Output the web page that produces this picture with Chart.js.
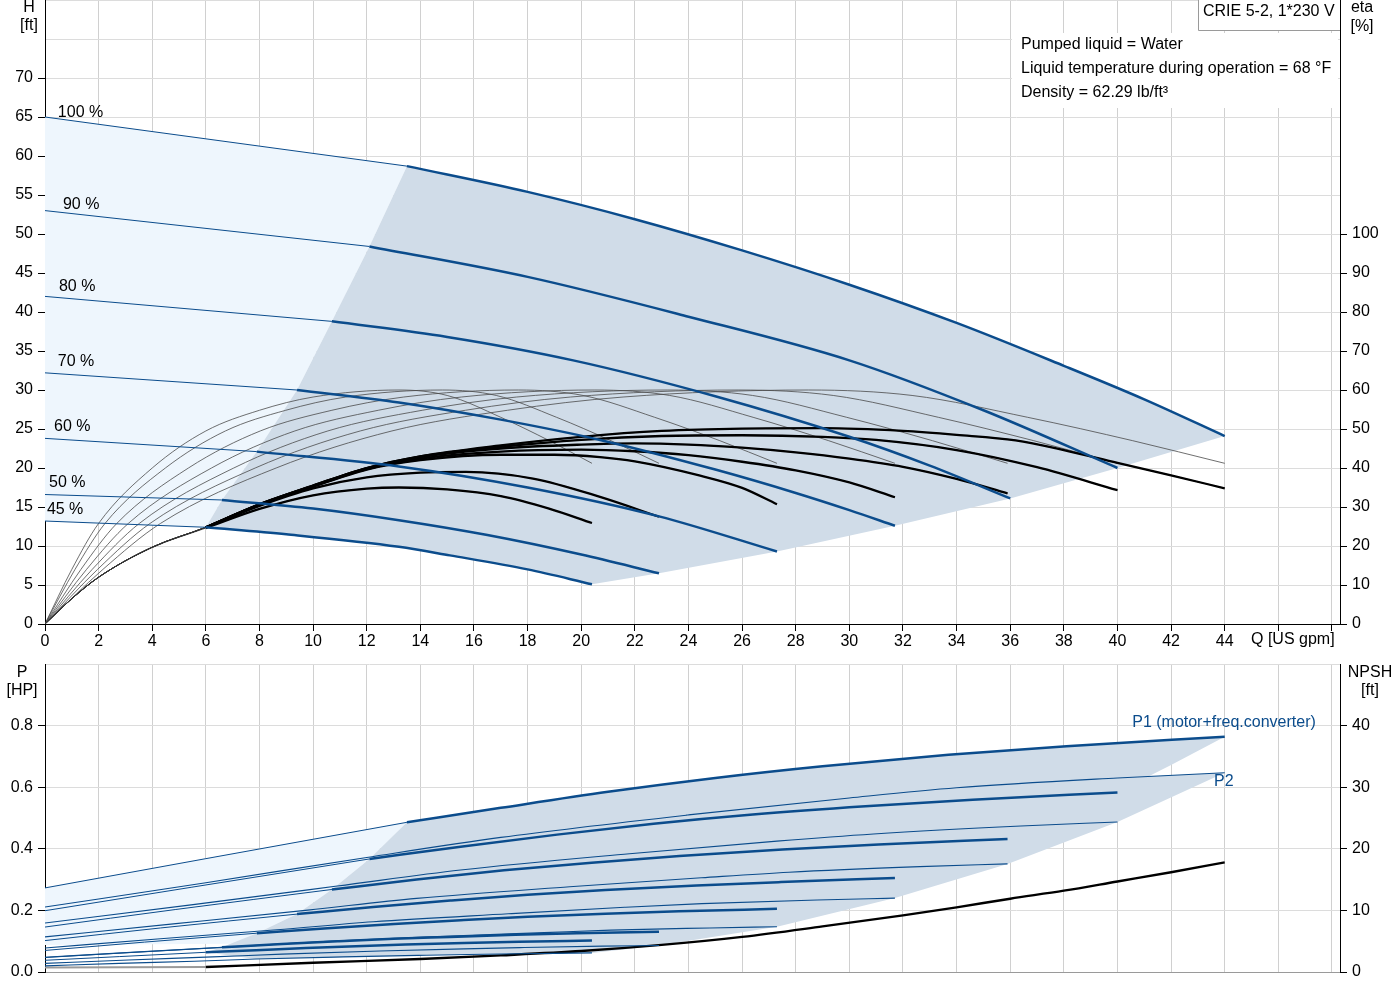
<!DOCTYPE html>
<html>
<head>
<meta charset="utf-8">
<title>CRIE 5-2 pump curves</title>
<script src="https://cdn.jsdelivr.net/npm/chart.js@4.4.1/dist/chart.umd.min.js"></script>
<style>
  html, body { margin: 0; padding: 0; background: #fff; }
  #wrap { position: relative; width: 1400px; height: 1000px; }
  canvas { position: absolute; left: 0; }
  #headChart { top: 0; }
  #powerChart { top: 655px; }
</style>
</head>
<body>
<div id="wrap">
  <canvas id="headChart" width="1400" height="655"></canvas>
  <canvas id="powerChart" width="1400" height="345"></canvas>
</div>
<script>
// ---- data ----
const speedNames = ["100 %", "90 %", "80 %", "70 %", "60 %", "50 %", "45 %"];
const thickFromQ = [13.5, 12.1, 10.7, 9.4, 7.9, 6.6, 6.0];
const etaThickFromQ = 6;

// head H [ft] per speed
const h100Q = [0, 13.5, 18, 22, 26, 30, 34, 38, 41, 44];
const h100H = [65, 58.7, 55.4, 51.9, 47.9, 43.5, 38.6, 33.1, 28.8, 24.1];
const h90Q = [0, 12.1, 18, 24, 30, 35, 40];
const h90H = [53, 48.4, 44.5, 39.4, 33.8, 27.4, 20];
const h80Q = [0, 10.7, 15, 19.7, 25, 30, 33, 36];
const h80H = [42, 38.8, 36.8, 33.8, 29.2, 24.0, 20.3, 16.1];
const h70Q = [0, 9.4, 13.2, 17, 20.7, 25, 28, 30, 31.7];
const h70H = [32.2, 30.0, 28.4, 26.2, 23.6, 19.8, 16.8, 14.6, 12.6];
const h60Q = [0, 7.9, 13.2, 18, 22.9, 27.3];
const h60H = [23.8, 22.1, 20.2, 17.5, 13.8, 9.3];
const h50Q = [0, 6.6, 10, 13.2, 16.5, 20, 22.9];
const h50H = [16.6, 15.9, 14.8, 13.3, 11.4, 8.9, 6.5];
const h45Q = [0, 6, 9, 13.2, 15.1, 18, 20.4];
const h45H = [13.2, 12.4, 11.5, 9.9, 8.8, 7.0, 5.1];

// pump efficiency eta [%] (thin curves), same eta values at each speed
const thinEta = [0, 14, 25.8, 40, 49.5, 54.8, 58.2, 60, 58.6, 53, 47, 41.2];
const thinQ100 = [0, 2.16, 4.31, 8.62, 12.94, 17.25, 21.56, 28.47, 32.34, 36.65, 40.57, 44];
const thinQ90 = [0, 1.96, 3.92, 7.84, 11.76, 15.68, 19.6, 25.88, 29.4, 33.32, 36.88, 40];
const thinQ80 = [0, 1.76, 3.52, 7.04, 10.55, 14.07, 17.59, 23.23, 26.39, 29.9, 33.1, 35.9];
const thinQ70 = [0, 1.55, 3.11, 6.21, 9.32, 12.43, 15.53, 20.51, 23.3, 26.41, 29.23, 31.7];
const thinQ60 = [0, 1.34, 2.68, 5.35, 8.03, 10.7, 13.38, 17.66, 20.07, 22.74, 25.17, 27.3];
const thinQ50 = [0, 1.12, 2.24, 4.49, 6.73, 8.98, 11.22, 14.82, 16.83, 19.08, 21.11, 22.9];
const thinQ45 = [0, 1.0, 2.0, 4.0, 6.0, 8.0, 10.0, 13.2, 15.0, 17.0, 18.81, 20.4];

// total efficiency eta [%] (heavy black curves)
const etaQ100 = [0, 1, 2, 4, 6, 8, 10, 12, 14, 17, 20, 23, 26, 29, 32, 34, 36.2, 38, 40, 42, 44];
const eta100 = [0, 6.5, 12, 19.7, 24.8, 30.7, 35.5, 40, 43, 45.8, 48, 49.5, 50.1, 50.2, 49.5, 48.5, 47.1, 44.6, 41.3, 38.1, 34.8];
const etaQ90 = [0, 1, 2, 4, 6, 8, 10, 12, 14, 17, 20, 23, 26, 29, 31, 34, 37, 40];
const eta90 = [0, 6.5, 12, 19.7, 24.8, 30.7, 35.5, 40, 43, 45.4, 47.2, 48.2, 48.4, 48, 47.2, 44.6, 40.2, 34.3];
const etaQ80 = [0, 1, 2, 4, 6, 8, 10, 12, 14, 17, 20, 22, 24, 26, 28, 30, 32, 34, 35.9];
const eta80 = [0, 6.5, 12, 19.7, 24.8, 30.7, 35.4, 39.9, 42.8, 45, 46, 46.3, 46, 45.2, 44, 42.4, 40.3, 37.2, 33.5];
const etaQ70 = [0, 1, 2, 4, 6, 8, 10, 12, 14, 17, 20, 22, 24, 26, 28, 30, 31.7];
const eta70 = [0, 6.5, 12, 19.7, 24.8, 30.6, 35.3, 39.7, 42.4, 44.2, 44.7, 44.3, 43.3, 41.6, 39.4, 36.3, 32.5];
const etaQ60 = [0, 1, 2, 4, 6, 8, 10, 12, 14, 17, 19, 20.7, 22, 24.4, 26, 27.3];
const eta60 = [0, 6.5, 12, 19.7, 24.8, 30.5, 35.2, 39.6, 42, 43.4, 43.4, 42.8, 41.7, 38.1, 34.9, 30.7];
const etaQ50 = [0, 1, 2, 4, 6, 8, 10, 12, 14, 15.7, 18.2, 20.7, 22.9];
const eta50 = [0, 6.5, 12, 19.7, 24.8, 30.3, 34.8, 37.6, 38.8, 39, 37.3, 32.6, 27.5];
const etaQ45 = [0, 1, 2, 4, 6, 8, 10, 12, 13.2, 15, 17, 18.8, 20.4];
const eta45 = [0, 6.5, 12, 19.6, 24.6, 29.5, 33, 34.7, 35, 34.5, 32.8, 29.6, 25.9];

// P1 (motor+freq.converter) [HP]
const p1Q100 = [0, 6, 13.5, 17, 21, 25, 29, 33.7, 38.1, 44];
const p1P100 = [0.273, 0.368, 0.486, 0.533, 0.585, 0.630, 0.668, 0.705, 0.733, 0.764];
const p1Q90 = [0, 5.45, 12.1, 15.5, 19.1, 22.7, 26.4, 30.6, 34.6, 40];
const p1P90 = [0.199, 0.275, 0.367, 0.407, 0.446, 0.481, 0.511, 0.538, 0.559, 0.583];
const p1Q80 = [0, 4.88, 10.7, 13.86, 17.12, 20.39, 23.66, 27.5, 31.09, 35.9];
const p1P80 = [0.146, 0.203, 0.268, 0.300, 0.330, 0.355, 0.377, 0.398, 0.414, 0.432];
const p1Q70 = [0, 4.31, 9.4, 12.24, 15.12, 18.0, 20.9, 24.3, 27.45, 31.7];
const p1P70 = [0.102, 0.143, 0.188, 0.211, 0.232, 0.251, 0.266, 0.281, 0.292, 0.305];
const p1Q60 = [0, 3.71, 7.9, 10.54, 13.02, 15.5, 18.0, 20.9, 23.64, 27.3];
const p1P60 = [0.070, 0.097, 0.126, 0.142, 0.156, 0.168, 0.179, 0.189, 0.197, 0.205];
const p1Q50 = [0, 3.11, 6.6, 8.84, 10.92, 13.0, 15.1, 17.54, 19.83, 22.9];
const p1P50 = [0.047, 0.063, 0.080, 0.091, 0.100, 0.108, 0.114, 0.121, 0.126, 0.131];
const p1Q45 = [0, 2.77, 6.0, 7.87, 9.73, 11.59, 13.44, 15.63, 17.67, 20.4];
const p1P45 = [0.038, 0.050, 0.064, 0.071, 0.078, 0.084, 0.089, 0.094, 0.098, 0.102];

// P2 [HP]
const p2Q100 = [0, 6, 12, 17, 24, 30, 34, 40, 44];
const p2P100 = [0.211, 0.29, 0.372, 0.437, 0.51, 0.565, 0.598, 0.63, 0.647];
const p2Q90 = [0, 5.45, 10.9, 15.5, 21.8, 27.3, 30.9, 36.4, 40];
const p2P90 = [0.159, 0.218, 0.279, 0.331, 0.384, 0.425, 0.448, 0.474, 0.487];
const p2Q80 = [0, 4.88, 9.8, 13.86, 19.57, 24.48, 27.75, 32.63, 35.9];
const p2P80 = [0.114, 0.157, 0.201, 0.239, 0.277, 0.306, 0.324, 0.342, 0.351];
const p2Q70 = [0, 4.31, 8.65, 12.24, 17.28, 21.62, 24.5, 28.8, 31.7];
const p2P70 = [0.078, 0.108, 0.137, 0.163, 0.189, 0.21, 0.222, 0.234, 0.24];
const p2Q60 = [0, 3.71, 7.45, 10.54, 14.88, 18.62, 21.1, 24.8, 27.3];
const p2P60 = [0.048, 0.066, 0.084, 0.1, 0.116, 0.128, 0.136, 0.143, 0.147];
const p2Q50 = [0, 3.11, 6.25, 8.84, 12.48, 15.62, 17.7, 20.8, 22.9];
const p2P50 = [0.028, 0.039, 0.049, 0.058, 0.068, 0.075, 0.079, 0.084, 0.086];
const p2Q45 = [0, 2.77, 5.57, 7.87, 11.12, 13.91, 15.77, 18.54, 20.4];
const p2P45 = [0.020, 0.028, 0.035, 0.042, 0.049, 0.054, 0.057, 0.060, 0.062];

// edge of the P1 area where it meets the P2 area, and lower edge of the pale area
const p1EdgeQ = [42, 41.15];
const p1EdgeP = [0.672, 0.635];
const paleLowQ = [7, 0];
const paleLowP = [0.092, 0.088];

// NPSH [ft]
const npshThinQ = [0, 6];
const npshThin = [0.75, 0.8];
const npshQ = [6, 10, 14, 17, 20, 23, 26, 29, 32, 34, 36, 38, 40, 42, 44];
const npsh = [0.8, 1.5, 2.1, 2.7, 3.4, 4.4, 5.7, 7.4, 9.2, 10.5, 11.9, 13.2, 14.7, 16.2, 17.8];

// ---- styling ----
const BLUE = "#0b4c8c";
const DARK_AREA = "#d0dce8";
const PALE_AREA = "#eef6fd";
const GRID_V = "#d0d0d0";
const GRID_H = "#dcdcdc";
const FONT = '16px "Liberation Sans", Arial, sans-serif';

Chart.defaults.font.family = '"Liberation Sans", Arial, sans-serif';
Chart.defaults.font.size = 16;
Chart.defaults.color = "#000";

function pts(qs, vs) { return qs.map((q, i) => ({ x: q, y: vs[i] })); }
function fromQ(qs, vs, q0) { return pts(qs, vs).filter(p => p.x >= q0 - 0.01); }
function uptoQ(qs, vs, q0) { return pts(qs, vs).filter(p => p.x <= q0 + 0.01); }
function lastPt(qs, vs) { return { x: qs[qs.length - 1], y: vs[vs.length - 1] }; }
function nearPt(qs, vs, q0) {
  let k = 0;
  qs.forEach((q, i) => { if (Math.abs(q - q0) < Math.abs(qs[k] - q0)) k = i; });
  return { x: qs[k], y: vs[k] };
}

const line = (data, color, width, axis, order) => ({
  data: data, borderColor: color, borderWidth: width, pointRadius: 0, fill: false,
  cubicInterpolationMode: "monotone", yAxisID: axis, order: order
});
const area = (data, color, axis, order) => ({
  data: data, borderColor: "rgba(0,0,0,0)", borderWidth: 0, backgroundColor: color,
  pointRadius: 0, fill: "shape", tension: 0, yAxisID: axis, order: order
});

// ---- head chart datasets ----
const headCurves = [[h100Q, h100H], [h90Q, h90H], [h80Q, h80H], [h70Q, h70H], [h60Q, h60H], [h50Q, h50H], [h45Q, h45H]];
const thinCurves = [thinQ100, thinQ90, thinQ80, thinQ70, thinQ60, thinQ50, thinQ45];
const etaCurves = [[etaQ100, eta100], [etaQ90, eta90], [etaQ80, eta80], [etaQ70, eta70], [etaQ60, eta60], [etaQ50, eta50], [etaQ45, eta45]];

const headStarts = headCurves.map((c, i) => nearPt(c[0], c[1], thickFromQ[i]));
const headEnds = headCurves.map(c => lastPt(c[0], c[1]));

const darkHead = []
  .concat(fromQ(h100Q, h100H, thickFromQ[0]))
  .concat(headEnds.slice(1))
  .concat(fromQ(h45Q, h45H, thickFromQ[6]).reverse())
  .concat(headStarts.slice(1, 6).reverse());
const paleHead = []
  .concat(uptoQ(h100Q, h100H, thickFromQ[0]))
  .concat(headStarts.slice(1))
  .concat(uptoQ(h45Q, h45H, thickFromQ[6]).reverse());

const headSets = [area(paleHead, PALE_AREA, "y", 20), area(darkHead, DARK_AREA, "y", 19)];
thinCurves.forEach(qs => headSets.push(line(pts(qs, thinEta), "#4a4a4a", 0.8, "eta", 6)));
etaCurves.forEach((c) => {
  headSets.push(line(pts(c[0], c[1]), "#333", 0.8, "eta", 5));
  headSets.push(line(fromQ(c[0], c[1], etaThickFromQ), "#000", 2.3, "eta", 3));
});
headCurves.forEach((c, i) => {
  headSets.push(line(uptoQ(c[0], c[1], thickFromQ[i]), BLUE, 1, "y", 1));
  headSets.push(line(fromQ(c[0], c[1], thickFromQ[i]), BLUE, 2.5, "y", 0));
});

// ---- power chart datasets ----
const p1Curves = [[p1Q100, p1P100], [p1Q90, p1P90], [p1Q80, p1P80], [p1Q70, p1P70], [p1Q60, p1P60], [p1Q50, p1P50], [p1Q45, p1P45]];
const p2Curves = [[p2Q100, p2P100], [p2Q90, p2P90], [p2Q80, p2P80], [p2Q70, p2P70], [p2Q60, p2P60], [p2Q50, p2P50], [p2Q45, p2P45]];
const p1Starts = p1Curves.map((c, i) => nearPt(c[0], c[1], thickFromQ[i]));
const p2Ends = p2Curves.map(c => lastPt(c[0], c[1]));

const darkPower = []
  .concat(fromQ(p1Q100, p1P100, thickFromQ[0]))
  .concat(pts(p1EdgeQ, p1EdgeP))
  .concat(p2Ends)
  .concat(fromQ(p2Q45, p2P45, 7).reverse())
  .concat(p1Starts.slice(1).reverse());
const palePower = []
  .concat(uptoQ(p1Q100, p1P100, thickFromQ[0]))
  .concat(p1Starts.slice(1, 5))
  .concat(pts(paleLowQ, paleLowP));

const powerSets = [area(palePower, PALE_AREA, "y", 20), area(darkPower, DARK_AREA, "y", 19)];
p2Curves.forEach(c => powerSets.push(line(pts(c[0], c[1]), BLUE, 1.1, "y", 2)));
p1Curves.forEach((c, i) => {
  powerSets.push(line(uptoQ(c[0], c[1], thickFromQ[i]), BLUE, 1, "y", 1));
  powerSets.push(line(fromQ(c[0], c[1], thickFromQ[i]), BLUE, 2.5, "y", 0));
});
powerSets.push(line(pts(npshThinQ, npshThin), "#9a9a9a", 2, "npsh", 4));
powerSets.push(line(pts(npshQ, npsh), "#000", 2.4, "npsh", 3));

// ---- text plugins ----
const percentAt = [[0.48, 65.6], [0.67, 53.8], [0.52, 43.2], [0.48, 33.6], [0.34, 25.3], [0.15, 18.1], [0.07, 14.7]];

const headText = {
  id: "headText",
  afterDraw(chart) {
    const { ctx, scales } = chart;
    ctx.save();
    ctx.font = FONT;
    ctx.fillStyle = "#000";
    ctx.textBaseline = "middle";
    ctx.textAlign = "center";
    ctx.fillText("H", 29, 8);
    ctx.fillText("[ft]", 29, 26);
    ctx.fillText("eta", 1362, 8);
    ctx.fillText("[%]", 1362, 27);
    ctx.textAlign = "left";
    ctx.fillText("Q [US gpm]", 1251, 640);
    speedNames.forEach((s, i) => {
      ctx.fillText(s, scales.x.getPixelForValue(percentAt[i][0]), scales.y.getPixelForValue(percentAt[i][1]));
    });
    // liquid info
    ctx.fillStyle = "#fff";
    ctx.fillRect(1012, 33, 326, 75);
    ctx.fillRect(1198, 0, 142, 30);
    ctx.strokeStyle = "#9a9a9a";
    ctx.lineWidth = 1;
    ctx.beginPath();
    ctx.moveTo(1198.5, 0);
    ctx.lineTo(1198.5, 30.5);
    ctx.lineTo(1340, 30.5);
    ctx.stroke();
    ctx.fillStyle = "#000";
    ctx.fillText("CRIE 5-2, 1*230 V", 1203, 12);
    ctx.fillText("Pumped liquid = Water", 1021, 45);
    ctx.fillText("Liquid temperature during operation = 68 \u00B0F", 1021, 69);
    ctx.fillText("Density = 62.29 lb/ft\u00B3", 1021, 93);
    ctx.restore();
  }
};

const powerText = {
  id: "powerText",
  afterDraw(chart) {
    const { ctx, scales } = chart;
    ctx.save();
    ctx.font = FONT;
    ctx.fillStyle = "#000";
    ctx.textBaseline = "middle";
    ctx.textAlign = "center";
    ctx.fillText("P", 22, 18);
    ctx.fillText("[HP]", 22, 36);
    ctx.fillText("NPSH", 1370, 18);
    ctx.fillText("[ft]", 1370, 36);
    ctx.textAlign = "left";
    ctx.fillStyle = BLUE;
    ctx.fillText("P1 (motor+freq.converter)", scales.x.getPixelForValue(40.55), scales.y.getPixelForValue(0.81));
    ctx.fillText("P2", scales.x.getPixelForValue(43.6), scales.y.getPixelForValue(0.619));
    ctx.restore();
  }
};

const hideAbove = (limit) => (c) => (c.tick && c.tick.value > limit + 1e-6 ? "rgba(0,0,0,0)" : "#000");
const fitY = (w) => (s) => { s.width = w; s.paddingTop = 0; s.paddingBottom = 0; };
const fitX = (h) => (s) => { s.height = h; s.paddingLeft = 0; s.paddingRight = 0; };

// ---- head chart ----
new Chart(document.getElementById("headChart"), {
  type: "line",
  data: { datasets: headSets },
  options: {
    responsive: false,
    animation: false,
    devicePixelRatio: 1,
    layout: { padding: 0 },
    plugins: { legend: { display: false }, tooltip: { enabled: false } },
    scales: {
      x: {
        type: "linear",
        min: 0,
        max: 48.3,
        ticks: { stepSize: 2, includeBounds: false, autoSkip: false, maxRotation: 0, padding: 1,
          callback: (v) => (v <= 44 ? v : "") },
        grid: { color: GRID_V, tickColor: "#000", tickLength: 7 },
        border: { color: "#000" },
        afterFit: fitX(31),
      },
      y: {
        position: "left",
        min: 0,
        max: 80,
        ticks: { stepSize: 5, padding: 5, callback: (v) => (v <= 70 ? v : "") },
        grid: { color: GRID_H, tickLength: 7, tickColor: hideAbove(70) },
        border: { color: "#000" },
        afterFit: fitY(45),
      },
      eta: {
        position: "right",
        min: 0,
        max: 160,
        ticks: { stepSize: 10, padding: 5 },
        afterBuildTicks: (s) => { s.ticks = s.ticks.filter((t) => t.value <= 100); },
        grid: { drawOnChartArea: false, tickLength: 7, tickColor: "#000" },
        border: { color: "#000" },
        afterFit: fitY(60),
      },
    },
  },
  plugins: [headText],
});

// ---- power chart ----
new Chart(document.getElementById("powerChart"), {
  type: "line",
  data: { datasets: powerSets },
  options: {
    responsive: false,
    animation: false,
    devicePixelRatio: 1,
    layout: { padding: { top: 9, left: 0, right: 0, bottom: 0 } },
    plugins: { legend: { display: false }, tooltip: { enabled: false } },
    scales: {
      x: {
        type: "linear",
        min: 0,
        max: 48.3,
        ticks: { display: false, stepSize: 2, includeBounds: false },
        grid: { color: GRID_V, drawTicks: false },
        border: { color: "#9a9a9a" },
        afterFit: fitX(28),
      },
      y: {
        position: "left",
        min: 0,
        max: 1,
        ticks: { stepSize: 0.2, padding: 5, callback: (v) => (v <= 0.81 ? v.toFixed(1) : "") },
        grid: { color: GRID_H, tickLength: 7, tickColor: hideAbove(0.8) },
        border: { color: "#000" },
        afterFit: fitY(45),
      },
      npsh: {
        position: "right",
        min: 0,
        max: 50,
        ticks: { stepSize: 10, padding: 5 },
        afterBuildTicks: (s) => { s.ticks = s.ticks.filter((t) => t.value <= 40); },
        grid: { drawOnChartArea: false, tickLength: 7, tickColor: "#000" },
        border: { color: "#000" },
        afterFit: fitY(60),
      },
    },
  },
  plugins: [powerText],
});
</script>
</body>
</html>
